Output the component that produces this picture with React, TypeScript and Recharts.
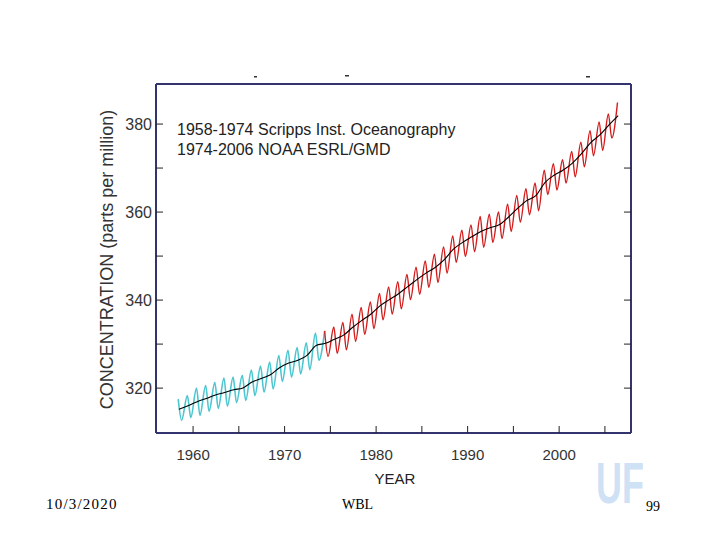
import React from 'react';
import { LineChart, Line, XAxis, YAxis } from 'recharts';

// Years of the record (Mauna Loa)
const years = [
  1958, 1959, 1960, 1961, 1962, 1963, 1964, 1965, 1966, 1967,
  1968, 1969, 1970, 1971, 1972, 1973, 1974, 1975, 1976, 1977,
  1978, 1979, 1980, 1981, 1982, 1983, 1984, 1985, 1986, 1987,
  1988, 1989, 1990, 1991, 1992, 1993, 1994, 1995, 1996, 1997,
  1998, 1999, 2000, 2001, 2002, 2003, 2004, 2005, 2006,
];

// Seasonal maximum (around May), ppm
const mayPeak = [
  317.5, 318.3, 320.0, 320.6, 321.3, 322.3, 322.5, 322.9, 324.1, 325.0,
  325.9, 327.4, 328.6, 329.2, 330.3, 332.5, 333.0, 333.9, 334.9, 336.8,
  338.3, 339.6, 341.5, 343.0, 344.2, 345.8, 347.5, 348.9, 350.4, 352.1,
  354.6, 355.9, 357.1, 359.0, 359.5, 360.0, 361.8, 363.8, 365.3, 366.6,
  369.5, 371.0, 371.9, 373.8, 375.9, 378.5, 380.5, 382.3, 384.9,
];

// Seasonal minimum (around late September / October), ppm (1958-2005)
const octTrough = [
  312.7, 313.3, 313.8, 314.7, 315.4, 315.9, 316.7, 317.2, 318.3, 319.1,
  319.8, 321.5, 322.5, 323.2, 324.2, 326.3, 327.2, 327.9, 328.7, 330.6,
  332.2, 333.5, 335.5, 336.8, 338.0, 340.1, 341.3, 342.9, 344.0, 346.1,
  348.6, 349.9, 351.0, 352.0, 353.1, 354.0, 355.6, 357.7, 359.4, 360.3,
  364.0, 365.0, 366.6, 368.0, 370.3, 372.8, 374.0, 376.8,
];

// Deseasonalised trend (annual means), ppm
const trendValue = [
  315.2, 315.97, 316.91, 317.64, 318.45, 318.99, 319.62, 320.04, 321.37, 322.18,
  323.05, 324.62, 325.68, 326.32, 327.45, 329.68, 330.18, 331.11, 332.04, 333.83,
  335.4, 336.84, 338.75, 340.11, 341.45, 343.05, 344.65, 346.12, 347.42, 349.19,
  351.57, 353.12, 354.39, 355.61, 356.45, 357.1, 358.83, 360.82, 362.61, 363.73,
  366.7, 368.38, 369.55, 371.14, 373.28, 375.8, 377.52, 379.8, 381.9,
];

const peakOffset = 0.375; // mid-May as fraction of year
const troughOffset = 0.75; // end of September
const trendOffset = 0.45;

const xTicks = [1960, 1965, 1970, 1975, 1980, 1985, 1990, 1995, 2000, 2005];
const yTicks = [320, 330, 340, 350, 360, 370, 380];
const xLabelEvery = 10;
const yLabelEvery = 20;

const scrippsEnd = 1974;

type Pt = { x: number; v: number };

const buildSeasonal = (from: number, to: number): Pt[] => {
  const out: Pt[] = [];
  years.forEach((y, i) => {
    if (y < from || y > to) return;
    out.push({ x: y + peakOffset, v: mayPeak[i] });
    if (y < to && octTrough[i] !== undefined) out.push({ x: y + troughOffset, v: octTrough[i] });
  });
  return out;
};

const scrippsData = buildSeasonal(1958, scrippsEnd);
const noaaData = buildSeasonal(scrippsEnd, 2006);
const trendData: Pt[] = years.map((y, i) => ({ x: y + trendOffset, v: trendValue[i] }));

const FONT = '"Liberation Sans", Arial, Helvetica, sans-serif';
const SERIF = '"Liberation Serif", "Times New Roman", serif';
const FRAME = '#33336e';

export default function App() {
  return (
    <div style={{ position: 'absolute', left: 0, top: 0, width: 720, height: 540, background: '#fff' }}>
      <LineChart
        width={720}
        height={540}
        margin={{ top: 74, right: 79, bottom: 47, left: 96 }}
      >
        <XAxis
          xAxisId="main"
          dataKey="x"
          type="number"
          domain={[1955.95, 2007.85]}
          allowDataOverflow
          ticks={xTicks}
          tickFormatter={(t: number) => (t % xLabelEvery === 0 ? String(t) : '')}
          height={60}
          tickSize={-7}
          tickMargin={23}
          axisLine={{ stroke: FRAME, strokeWidth: 2 }}
          tickLine={{ stroke: '#222', strokeWidth: 1 }}
          tick={{ fill: '#333', fontSize: 15, fontFamily: FONT }}
        />
        <XAxis
          xAxisId="top"
          orientation="top"
          type="number"
          domain={[1955.95, 2007.85]}
          allowDataOverflow
          ticks={xTicks}
          tickFormatter={() => ''}
          height={10}
          tickSize={-7}
          axisLine={{ stroke: FRAME, strokeWidth: 2 }}
          tickLine={{ stroke: '#222', strokeWidth: 1 }}
        />
        <YAxis
          yAxisId="main"
          type="number"
          domain={[309.8, 389.1]}
          allowDataOverflow
          ticks={yTicks}
          tickFormatter={(t: number) => (t % yLabelEvery === 0 ? String(t) : '')}
          width={60}
          tickSize={-7}
          tickMargin={11}
          axisLine={{ stroke: FRAME, strokeWidth: 2 }}
          tickLine={{ stroke: '#222', strokeWidth: 1 }}
          tick={{ fill: '#333', fontSize: 16, fontFamily: FONT }}
        />
        <YAxis
          yAxisId="right"
          orientation="right"
          type="number"
          domain={[309.8, 389.1]}
          allowDataOverflow
          ticks={yTicks}
          tickFormatter={() => ''}
          width={10}
          tickSize={-7}
          axisLine={{ stroke: FRAME, strokeWidth: 2 }}
          tickLine={{ stroke: '#222', strokeWidth: 1 }}
        />
        <Line
          xAxisId="main"
          yAxisId="main"
          data={scrippsData}
          dataKey="v"
          type="monotone"
          stroke="#4cc6cf"
          strokeWidth={1.6}
          dot={false}
          isAnimationActive={false}
        />
        <Line
          xAxisId="main"
          yAxisId="main"
          data={noaaData}
          dataKey="v"
          type="monotone"
          stroke="#d21c1c"
          strokeWidth={1.4}
          dot={false}
          isAnimationActive={false}
        />
        <Line
          xAxisId="main"
          yAxisId="main"
          data={trendData}
          dataKey="v"
          type="monotone"
          stroke="#000"
          strokeWidth={1.1}
          dot={false}
          isAnimationActive={false}
        />
      </LineChart>
      <svg
        width={720}
        height={540}
        style={{ position: 'absolute', left: 0, top: 0, pointerEvents: 'none' }}
      >
        <text x={177} y={135} fontFamily={FONT} fontSize={16} fill="#222">
          1958-1974 Scripps Inst. Oceanography
        </text>
        <text x={177} y={155} fontFamily={FONT} fontSize={16} fill="#222">
          1974-2006 NOAA ESRL/GMD
        </text>
        <text
          x={113}
          y={259.5}
          transform="rotate(-90 113 259.5)"
          textAnchor="middle"
          fontFamily={FONT}
          fontSize={18}
          fill="#333"
        >
          CONCENTRATION (parts per million)
        </text>
        <text x={395} y={484} textAnchor="middle" fontFamily={FONT} fontSize={15} fill="#222">
          YEAR
        </text>
        <g transform="translate(596 503) scale(0.62 1)">
          <text x={0} y={0} fontFamily={FONT} fontWeight={700} fontSize={58} fill="#cfe1f5">
            UF
          </text>
        </g>
        <text x={46} y={509} fontFamily={SERIF} fontSize={15} letterSpacing={1.2} fill="#000">
          10/3/2020
        </text>
        <text x={342} y={509} fontFamily={SERIF} fontSize={14} fill="#000">
          WBL
        </text>
        <text x={646} y={511} fontFamily={SERIF} fontSize={14} fill="#000">
          99
        </text>
        <rect x={254} y={76} width={3} height={1.5} fill="#333" />
        <rect x={345} y={75} width={4} height={1.5} fill="#333" />
        <rect x={586} y={76} width={4} height={1.5} fill="#333" />
      </svg>
    </div>
  );
}
